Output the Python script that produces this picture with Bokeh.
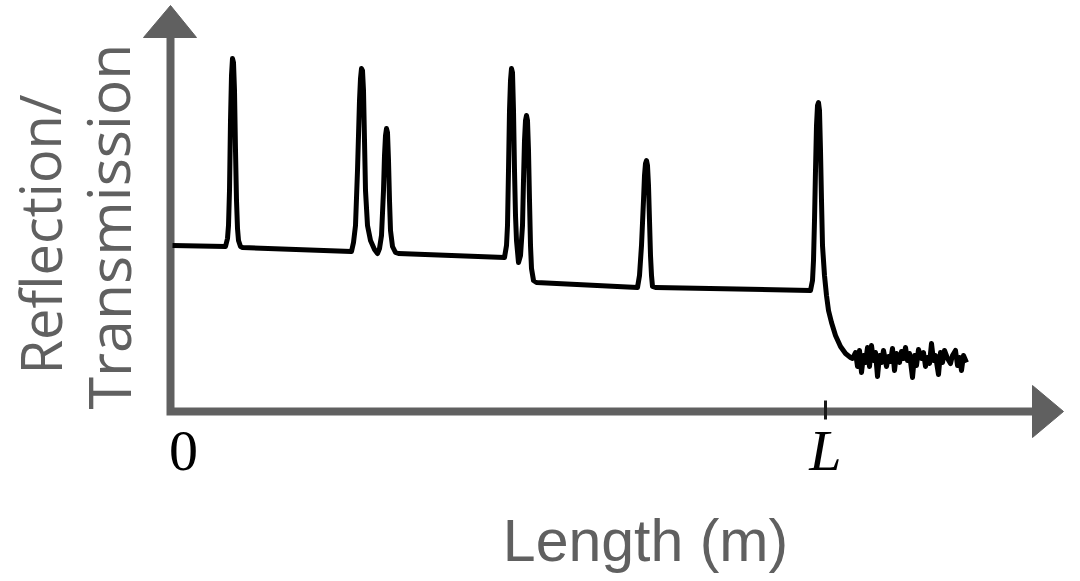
from bokeh.plotting import figure
from bokeh.models import Range1d, Label
from bokeh.embed import file_html
from bokeh.resources import INLINE

# Trace: distance (m, arbitrary units, L = 655) and reflection (a.u.)
distance = [2, 55, 57, 58, 59, 60, 61, 62, 63, 64, 65, 66, 67, 68, 70, 72,
            181, 183, 185, 187, 189, 190, 191, 192, 193, 194, 195, 197, 200, 204, 207,
            209, 211, 213, 214, 215, 216, 217, 218, 219, 220, 222, 225, 228,
            334, 336, 337, 338, 339, 340, 341, 342, 343, 344, 345, 346, 348,
            350, 352, 353, 354, 355, 356, 357, 358, 359, 360, 361, 363, 366,
            467, 469, 471, 473, 474, 475, 476, 477, 478, 479, 480, 481, 482, 485,
            640, 642, 643, 644, 645, 646, 647, 648, 649, 650, 651, 652, 654, 656, 658,
            661, 665, 670, 675, 680,
            682, 685, 687, 689, 691, 693, 695, 697, 699, 701, 703, 705, 707, 709, 711,
            713, 716, 718, 720, 722, 724, 726, 729, 731, 733, 735, 737, 739, 742, 744,
            746, 748, 751, 753, 755, 757, 759, 761, 763, 765, 768, 770, 772, 774, 777,
            780, 782, 785, 787, 789, 791, 793, 796]
reflection = [166, 165, 173, 186, 221, 291, 336, 353, 349, 321, 261, 211, 183, 171, 165, 164,
              160, 169, 186, 241, 311, 333, 343, 341, 321, 271, 221, 186, 171, 162, 158,
              163, 176, 221, 256, 276, 283, 279, 251, 211, 181, 165, 159, 158,
              154, 166, 186, 241, 301, 331, 343, 339, 301, 241, 196, 171, 149,
              156, 186, 231, 271, 291, 296, 291, 261, 211, 166, 143, 131, 129,
              124, 136, 166, 211, 236, 248, 251, 246, 226, 191, 156, 136, 125, 124,
              121, 131, 151, 191, 241, 286, 306, 309, 301, 261, 211, 166, 136, 116, 101,
              89, 76, 65, 58, 54,
              53, 59, 45, 61, 39, 56, 49, 64, 45, 66, 51, 59, 35, 56, 49,
              61, 45, 55, 50, 63, 41, 58, 49, 60, 53, 64, 51, 58, 34, 56,
              46, 62, 53, 59, 45, 54, 48, 68, 51, 56, 37, 59, 49, 61, 53,
              48, 56, 61, 46, 54, 41, 56, 49]

tick_positions = [0, 655]
tick_labels = ["0", "L"]

AXIS_GRAY = "#606060"

p = figure(width=1080, height=581, output_backend="svg", toolbar_location=None,
           x_range=Range1d(-170, 910), y_range=Range1d(-170, 411),
           x_axis_type=None, y_axis_type=None, min_border=0)
p.grid.visible = False
p.outline_line_color = None
p.background_fill_color = "white"
p.border_fill_color = "white"

# axes with arrowheads
p.line([0, 0, 862], [374, 0, 0], line_color=AXIS_GRAY, line_width=8, line_join="miter")
p.patch([-27, 26, 0], [374, 374, 406], fill_color=AXIS_GRAY, line_color=AXIS_GRAY)
p.patch([862, 862, 893], [26, -26, 0], fill_color=AXIS_GRAY, line_color=AXIS_GRAY)

# tick at L
p.segment(x0=[tick_positions[1]], y0=[11], x1=[tick_positions[1]], y1=[-8],
          line_color="#1a1a1a", line_width=3)

# trace
p.line(distance, reflection, line_color="black", line_width=5, line_join="round")

# tick labels
p.add_layout(Label(x=tick_positions[0] + 13, y=-39, text=tick_labels[0], text_align="center",
                   text_baseline="alphabetic", text_font="Liberation Serif",
                   text_font_size="58px", text_color="black"))
p.add_layout(Label(x=tick_positions[1], y=-39, text=tick_labels[1], text_align="center",
                   text_baseline="alphabetic", text_font="Liberation Serif",
                   text_font_style="italic", text_font_size="58px", text_color="black"))

# axis titles
p.add_layout(Label(x=475, y=-129, text="Length (m)", text_align="center",
                   text_baseline="alphabetic", text_font="Liberation Sans",
                   text_font_size="59px", text_color=AXIS_GRAY))
p.add_layout(Label(x=-131, y=177, text="Reflection/", text_align="center", angle=1.5708,
                   text_baseline="alphabetic", text_font="Open Sans",
                   text_font_size="56px", text_color=AXIS_GRAY))
p.add_layout(Label(x=-63, y=185, text="Transmission", text_align="center", angle=1.5708,
                   text_baseline="alphabetic", text_font="Open Sans",
                   text_font_size="59px", text_color=AXIS_GRAY))

open("out.html", "w").write(file_html(p, INLINE))
